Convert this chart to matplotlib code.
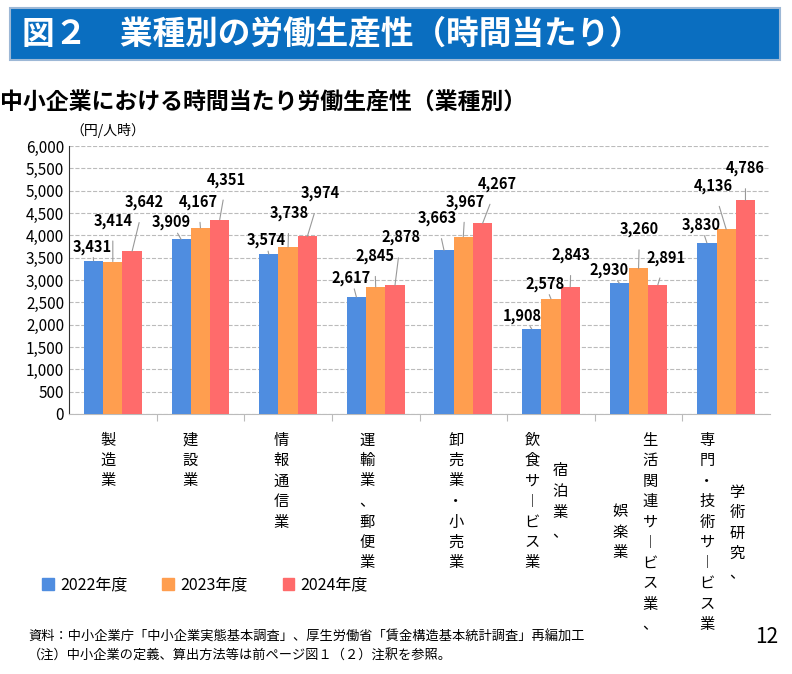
import matplotlib.pyplot as plt
from matplotlib.patches import Rectangle, Patch

plt.rcParams['font.family'] = ['Noto Sans CJK JP', 'DejaVu Sans']

categories = ['製造業', '建設業', '情報通信業', '運輸業、郵便業', '卸売業・小売業',
              '宿泊業、飲食サービス業', '生活関連サービス業、娯楽業', '学術研究、専門・技術サービス業']
years = ['2022年度', '2023年度', '2024年度']
v2022 = [3431, 3909, 3574, 2617, 3663, 1908, 2930, 3830]
v2023 = [3414, 4167, 3738, 2845, 3967, 2578, 3260, 4136]
v2024 = [3642, 4351, 3974, 2878, 4267, 2843, 2891, 4786]
colors = ['#4F8DE0', '#FF9E4F', '#FF6B6B']

# label offsets in pixels (dx, dy) per series, per category
offs = [
    [(-1, 14), (-10, 17), (-3, 14), (-5, 19), (-7, 32), (-9, 13), (-10, 13), (-6, 18)],
    [(0, 41), (-2, 26), (1, 34), (-1, 31), (2, 35), (-6, 15), (1, 39), (-13, 43)],
    [(12, 49), (7, 40), (13, 43), (6, 48), (15, 39), (1, 32), (8, 27), (0, 32)],
]

W, H = 792, 674
fig = plt.figure(figsize=(W / 100, H / 100), dpi=100)


def px(x, y):
    return x / W, 1 - y / H


# banner
fig.patches.append(Rectangle(px(10, 60), 770 / W, 52 / H, transform=fig.transFigure,
                             facecolor='#0A6EC0', edgecolor='#9DB8D6', lw=1.5))
fig.text(*px(22, 34), '図２　業種別の労働生産性（時間当たり）', color='white',
         fontsize=23.5, fontweight='bold', va='center')
fig.text(*px(0, 103), '中小企業における時間当たり労働生産性（業種別）',
         fontsize=16.5, fontweight='bold', va='center')

ax = fig.add_axes([69 / W, 1 - 414 / H, 701 / W, 268 / H])
x = list(range(len(categories)))
bw = 0.22
series = [v2022, v2023, v2024]
for i, vals in enumerate(series):
    xs = [xi + (i - 1) * bw for xi in x]
    ax.bar(xs, vals, bw, color=colors[i], zorder=3)
    for j, (xx, v) in enumerate(zip(xs, vals)):
        dx, dy = offs[i][j]
        ax.annotate(f'{v:,}', (xx, v), xytext=(dx, dy), textcoords='offset pixels',
                    ha='center', va='center', fontsize=10.5, fontweight='bold', zorder=6,
                    arrowprops=dict(arrowstyle='-', color='#999999', lw=0.8,
                                    shrinkA=7, shrinkB=0))
ax.set_xlim(-0.5, len(categories) - 0.5)
ax.set_ylim(0, 6000)
ax.set_yticks(range(0, 6001, 500))
ax.set_yticklabels([f'{t:,}' for t in range(0, 6001, 500)], fontsize=11)
ax.set_xticks([k + 0.5 for k in range(len(categories) - 1)])
ax.set_xticklabels([])
ax.tick_params(axis='x', length=5, color='#BBBBBB')
ax.tick_params(axis='y', length=0)
ax.grid(axis='y', ls='--', color='#BBBBBB', lw=0.8, zorder=0)
for s in ['top', 'right']:
    ax.spines[s].set_visible(False)
ax.spines['bottom'].set_color('#BBBBBB')
ax.spines['left'].set_color('#333333')
fig.text(*px(70, 130), '（円/人時）', fontsize=10, va='center')

# vertical category labels: (text, x px, first char centre y px)
columns = [
    ('製造業', 108, 440), ('建設業', 190, 440), ('情報通信業', 281, 440),
    ('運輸業、郵便業', 367, 440), ('卸売業・小売業', 456, 440),
    ('飲食サービス業', 532, 440), ('宿泊業、', 560, 471),
    ('生活関連サービス業、', 650, 440), ('娯楽業', 620, 512),
    ('専門・技術サービス業', 707, 440), ('学術研究、', 737, 492),
]
for txt, cx, top in columns:
    for k, ch in enumerate(txt):
        if ch == 'ー':
            ch = '︱'
        fig.text(*px(cx, top + k * 20.5), ch, fontsize=11, ha='center', va='center')

handles = [Patch(color=c) for c in colors]
fig.legend(handles, years, loc='center left', bbox_to_anchor=px(28, 585), ncol=3,
           frameon=False, fontsize=11.5, handlelength=0.7, handleheight=0.7,
           columnspacing=2.2, handletextpad=0.4)

fig.text(*px(28, 637), '資料：中小企業庁「中小企業実態基本調査」、厚生労働省「賃金構造基本統計調査」再編加工',
         fontsize=9.5, va='center')
fig.text(*px(28, 655), '（注）中小企業の定義、算出方法等は前ページ図１（２）注釈を参照。',
         fontsize=9.5, va='center')
fig.text(*px(778, 637), '12', fontsize=15, ha='right', va='center')

fig.savefig('out.png', dpi=100)
